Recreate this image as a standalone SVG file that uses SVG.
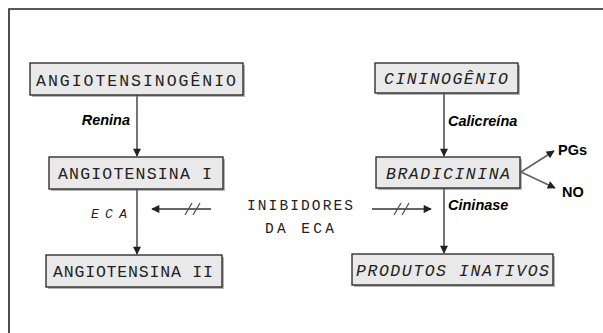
<svg xmlns="http://www.w3.org/2000/svg" width="603" height="333" viewBox="0 0 603 333">
<style>
.box{fill:#e9e9e9;stroke:#222;stroke-width:1.3}
.shadow{fill:#777;opacity:0.55}
.mono{font-family:"Liberation Mono","Courier New",monospace;font-size:16.5px;fill:#222}
.it{font-style:italic}
.lab{font-family:"Liberation Sans",Arial,sans-serif;font-size:14.5px;font-weight:bold;font-style:italic;fill:#000}
.lab2{font-family:"Liberation Sans",Arial,sans-serif;font-size:14.5px;font-weight:bold;fill:#000}
.conn{stroke:#666;stroke-width:1.8;fill:none}
.slash{stroke:#555;stroke-width:1.3;fill:none}
</style>
<defs>
<marker id="ah" viewBox="0 0 10 10" refX="9" refY="5" markerWidth="5" markerHeight="4.5" orient="auto" markerUnits="strokeWidth">
<path d="M0,0 L10,5 L0,10 z" fill="#222"/>
</marker>
</defs>
<rect width="603" height="333" fill="#fff"/>
<path d="M9,333 V9 H603" fill="none" stroke="#222" stroke-width="1.6"/>

<g id="connectors">
<line class="conn" x1="137" y1="95" x2="137" y2="156" marker-end="url(#ah)"/>
<line class="conn" x1="137" y1="189" x2="137" y2="254" marker-end="url(#ah)"/>
<line class="conn" x1="444" y1="93" x2="444" y2="156" marker-end="url(#ah)"/>
<line class="conn" x1="444" y1="188" x2="444" y2="253" marker-end="url(#ah)"/>
<line class="conn" x1="521" y1="172" x2="554" y2="151" marker-end="url(#ah)"/>
<line class="conn" x1="521" y1="172" x2="555" y2="188" marker-end="url(#ah)"/>
<line class="conn" x1="211" y1="209" x2="152" y2="209" marker-end="url(#ah)"/>
<line class="slash" x1="185" y1="215" x2="192" y2="203"/>
<line class="slash" x1="193" y1="215" x2="200" y2="203"/>
<line class="conn" x1="372" y1="209" x2="431" y2="209" marker-end="url(#ah)"/>
<line class="slash" x1="394" y1="215" x2="401" y2="203"/>
<line class="slash" x1="402" y1="215" x2="409" y2="203"/>
</g>

<g id="angiotensinogenio">
<rect class="shadow" x="32" y="65" width="213" height="32"/>
<rect class="box" x="30" y="63" width="213" height="32"/>
<text class="mono" x="36" y="86" textLength="200" lengthAdjust="spacing">ANGIOTENSINOGÊNIO</text>
</g>
<g id="cininogenio">
<rect class="shadow" x="377" y="65" width="143" height="30"/>
<rect class="box" x="375" y="63" width="143" height="30"/>
<text class="mono it" x="384" y="84" textLength="124" lengthAdjust="spacing">CININOGÊNIO</text>
</g>
<g id="angiotensina1">
<rect class="shadow" x="51" y="159" width="174" height="32"/>
<rect class="box" x="49" y="157" width="174" height="32"/>
<text class="mono" x="58" y="179" textLength="154" lengthAdjust="spacing">ANGIOTENSINA I</text>
</g>
<g id="bradicinina">
<rect class="shadow" x="378" y="159" width="144" height="31"/>
<rect class="box" x="376" y="157" width="144" height="31"/>
<text class="mono it" x="386" y="179" textLength="124" lengthAdjust="spacing">BRADICININA</text>
</g>
<g id="angiotensina2">
<rect class="shadow" x="48" y="257" width="176" height="32"/>
<rect class="box" x="46" y="255" width="176" height="32"/>
<text class="mono" x="53" y="277" textLength="160" lengthAdjust="spacing">ANGIOTENSINA II</text>
</g>
<g id="produtos">
<rect class="shadow" x="354" y="256" width="201" height="31"/>
<rect class="box" x="352" y="254" width="201" height="31"/>
<text class="mono it" x="356" y="276" textLength="193" lengthAdjust="spacing">PRODUTOS INATIVOS</text>
</g>

<g id="labels">
<text class="lab" x="130" y="125" text-anchor="end">Renina</text>
<text class="lab" x="448" y="126">Calicreína</text>
<text class="lab" x="448" y="210">Cininase</text>
<text class="lab2" x="558" y="155">PGs</text>
<text class="lab2" x="562" y="197">NO</text>
<text class="mono it" x="91" y="218" style="font-size:13px" textLength="36" lengthAdjust="spacing">ECA</text>
<text class="mono" x="247" y="210" style="font-size:14.5px" textLength="106" lengthAdjust="spacing">INIBIDORES</text>
<text class="mono" x="265" y="233" style="font-size:14.5px" textLength="69" lengthAdjust="spacing">DA ECA</text>
</g>
</svg>
